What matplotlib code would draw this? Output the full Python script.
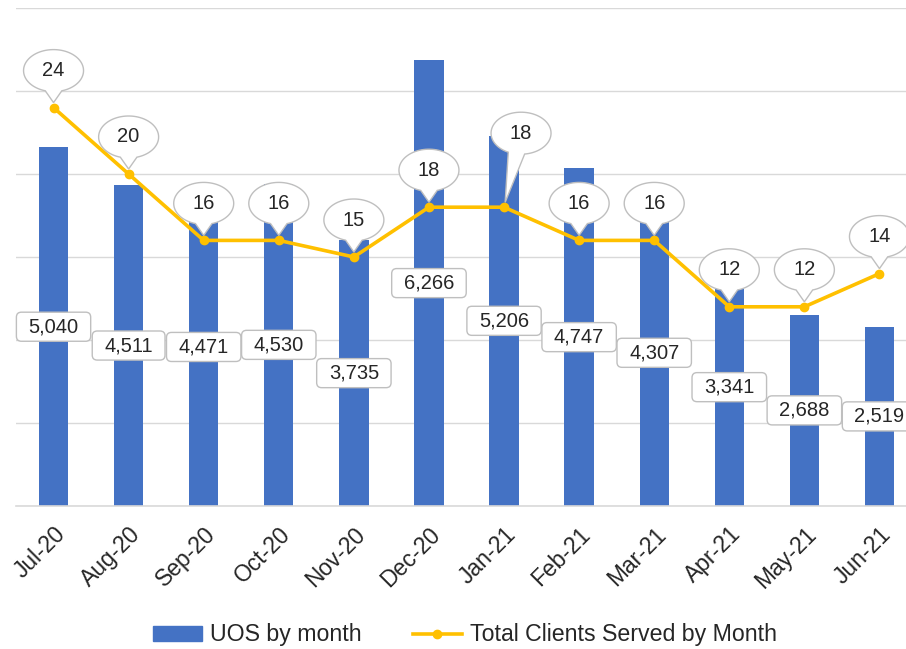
import numpy as np
import matplotlib
matplotlib.use("Agg")
import matplotlib.pyplot as plt
from matplotlib.patches import Patch, PathPatch, BoxStyle
from matplotlib.lines import Line2D
from matplotlib.path import Path
from matplotlib.transforms import ScaledTranslation

plt.rcParams['font.family'] = ['Liberation Sans', 'DejaVu Sans']

# --- data ---
months = ["Jul-20", "Aug-20", "Sep-20", "Oct-20", "Nov-20", "Dec-20",
          "Jan-21", "Feb-21", "Mar-21", "Apr-21", "May-21", "Jun-21"]
uos = [5040, 4511, 4471, 4530, 3735, 6266, 5206, 4747, 4307, 3341, 2688, 2519]
clients = [24, 20, 16, 16, 15, 18, 18, 16, 16, 12, 12, 14]

BLUE = "#4472C4"
GOLD = "#FFC000"
GRID = "#D9D9D9"
EDGE = "#BFBFBF"
TXT = "#262626"

fig = plt.figure(figsize=(9.06, 6.49), dpi=100)
ax = fig.add_axes([16 / 906, 143 / 649, 901 / 906, 498 / 649])
ax2 = ax.twinx()

x = np.arange(len(months))
ax.bar(x, uos, width=0.39, color=BLUE, zorder=2)
ax.set_xlim(-0.5, len(months) - 0.5)
ax.set_ylim(0, 7000)
ax2.set_ylim(0, 30)

# gridlines follow the right-hand scale (0..30 by 5) but sit behind the bars
ax.set_yticks([v * 7000 / 30 for v in range(0, 31, 5)])
ax.yaxis.grid(True, color=GRID, lw=1)
ax.set_axisbelow(True)
ax.tick_params(axis='y', left=False, labelleft=False)
ax2.tick_params(axis='y', right=False, labelright=False)
for a in (ax, ax2):
    for s in ("left", "right", "top"):
        a.spines[s].set_visible(False)
ax.spines["bottom"].set_color(GRID)
ax.spines["bottom"].set_linewidth(1.2)
ax2.spines["bottom"].set_visible(False)

ax.set_xticks(x, months, rotation=45, ha='right', rotation_mode='anchor',
              fontsize=16.5, color=TXT)
ax.tick_params(axis='x', length=0, pad=12)


# bar value labels: rounded white boxes in the middle of each bar
def label_box(x0, y0, width, height, mutation_size):
    padx = 0.6 * mutation_size
    pady = 0.25 * mutation_size
    return BoxStyle.Round(pad=0, rounding_size=0.25)(
        x0 - padx, y0 - pady, width + 2 * padx, height + 2 * pady, mutation_size)


for i, v in enumerate(uos):
    ax.text(i, v / 2, f"{v:,}", ha='center', va='center', fontsize=14.5,
            color=TXT, zorder=4,
            bbox=dict(boxstyle=label_box, fc='white', ec=EDGE, lw=1))

# line series
ax2.plot(x, clients, color=GOLD, lw=2.6, marker='o', ms=6, zorder=3)

# speech-bubble labels (pixel geometry, figure is 100 dpi)
bubble_off = [(0, 37)] * len(clients)
bubble_off[6] = (17, 74)
A, B = 30, 21


def bubble_path(cx, cy):
    d = np.hypot(cx, cy)
    tx, ty = cx / d * 5, cy / d * 5
    t0 = np.arctan2((ty - cy) / B, (tx - cx) / A)
    t = np.linspace(t0 + 0.28, t0 + 2 * np.pi - 0.28, 80)
    xs = cx + A * np.cos(t)
    ys = cy + B * np.sin(t)
    verts = np.column_stack([np.append(xs, [tx, xs[0]]), np.append(ys, [ty, ys[0]])])
    codes = [Path.MOVETO] + [Path.LINETO] * (len(verts) - 2) + [Path.CLOSEPOLY]
    return Path(verts / 100.0, codes)


for i, v in enumerate(clients):
    cx, cy = bubble_off[i]
    tr = fig.dpi_scale_trans + ScaledTranslation(i, v, ax2.transData)
    patch = PathPatch(bubble_path(cx, cy), transform=tr, fc='white', ec=EDGE,
                      lw=1, zorder=5, clip_on=False)
    ax2.add_artist(patch)
    ax2.annotate(str(v), xy=(i, v), xytext=(cx * 0.72, cy * 0.72),
                 textcoords='offset points', ha='center', va='center',
                 fontsize=14.5, color=TXT, zorder=6)

handles = [Patch(color=BLUE),
           Line2D([], [], color=GOLD, lw=2.6, marker='o', ms=6)]
fig.legend(handles, ["UOS by month", "Total Clients Served by Month"],
           loc='center', bbox_to_anchor=(465 / 906, 14 / 649), ncol=2,
           frameon=False, fontsize=16.7, handlelength=2.1, handleheight=0.6,
           handletextpad=0.35, columnspacing=2.2, labelcolor=TXT)

fig.savefig("out.png", dpi=100)
